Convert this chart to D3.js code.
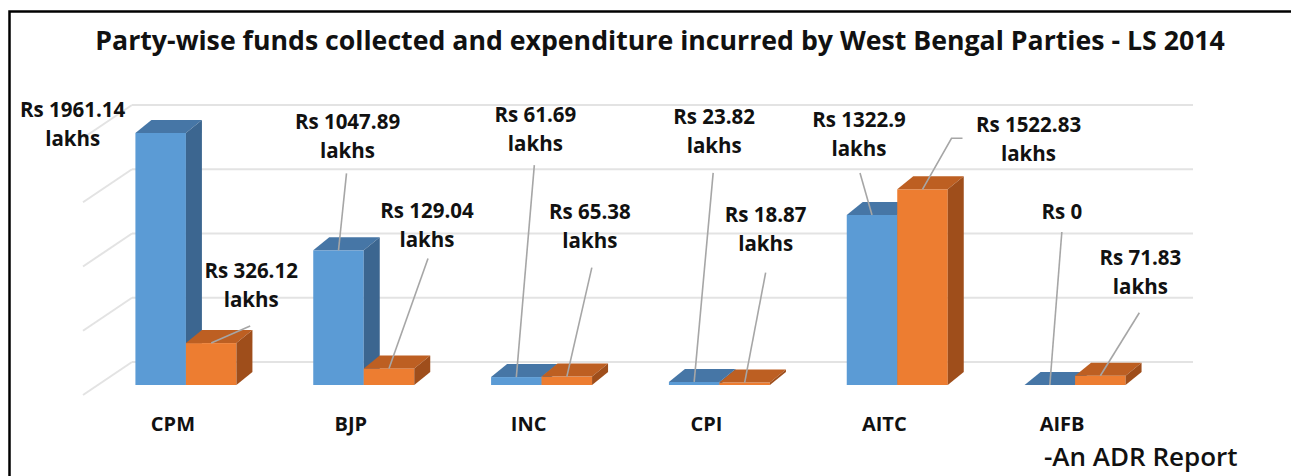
<!DOCTYPE html>
<html><head><meta charset="utf-8">
<script src="https://cdn.jsdelivr.net/npm/d3@7"></script>
<style>body{margin:0;background:#fff}svg{display:block}</style>
</head><body>
<svg id="c" width="1291" height="476"></svg>
<script>
const categories = ["CPM","BJP","INC","CPI","AITC","AIFB"];
const seriesNames = ["Funds collected","Expenditure incurred"];
const funds = [1961.14, 1047.89, 61.69, 23.82, 1322.9, 0];
const expenditure = [326.12, 129.04, 65.38, 18.87, 1522.83, 71.83];
const fundLabels = ["Rs 1961.14","Rs 1047.89","Rs 61.69","Rs 23.82","Rs 1322.9","Rs 0"];
const expLabels = ["Rs 326.12","Rs 129.04","Rs 65.38","Rs 18.87","Rs 1522.83","Rs 71.83"];
const fundUnits = ["lakhs","lakhs","lakhs","lakhs","lakhs",""];
const expUnits = ["lakhs","lakhs","lakhs","lakhs","lakhs","lakhs"];
const yTicks = [0,500,1000,1500,2000];
const titleText = "Party-wise funds collected and expenditure incurred by West Bengal Parties - LS 2014";
const sourceText = "-An ADR Report";

// label placement offsets relative to each bar's top-front anchor (layout only)
const fundLabelPos = [
  {dx:-88,dy:-16,lead:null},
  {dx:9,dy:-121,lead:[8,-77]},
  {dx:19,dy:-255,lead:[18,-212]},
  {dx:20,dy:-258,lead:[19,-209]},
  {dx:-13,dy:-88,lead:[-12,-42]},
  {dx:12,dy:-166,lead:[12,-153]}
];
const expLabelPos = [
  {dx:40,dy:-65,lead:[39,-17]},
  {dx:38,dy:-150,lead:[39,-110]},
  {dx:23,dy:-158,lead:[25,-109]},
  {dx:21,dy:-161,lead:[21,-110]},
  {dx:106,dy:-57,lead:[40,-51],elbow:[29,-51]},
  {dx:40,dy:-111,lead:[39,-63]}
];

const svg = d3.select("#c");
const FONT = "'Open Sans', 'DejaVu Sans', sans-serif";

// chart border
svg.append("rect").attr("x",9.5).attr("y",11.5).attr("width",1300).attr("height",500)
  .attr("fill","#fff").attr("stroke","#000").attr("stroke-width",2.5);

// title
const title = svg.append("text").attr("x",660).attr("y",50).attr("text-anchor","middle")
  .attr("font-family",FONT).attr("font-weight","bold").attr("font-size",24).attr("fill","#111")
  .text(titleText);
const tw = title.node().getComputedTextLength();
title.attr("font-size", 24*1130/tw);

const x0 = d3.scalePoint().domain(categories).range([97,1164]).padding(0.5);
const x1 = d3.scaleBand().domain(seriesNames).range([-50.5,50.5]).padding(0);
const yFront = d3.scaleLinear().domain([0,2000]).range([385,128]);
const wallShift = -23;   // back wall baseline offset
const wallLeft = 132, wallRight = 1193;
const sideDx = -49, sideDy = 33;

// gridlines on back wall and left side wall
const g = svg.append("g");
yTicks.forEach(t=>{
  const yy = yFront(t)+wallShift;
  g.append("line").attr("x1",wallLeft).attr("x2",wallRight).attr("y1",yy).attr("y2",yy)
    .attr("stroke","#e3e3e3").attr("stroke-width",2);
  g.append("line").attr("x1",wallLeft).attr("x2",wallLeft+sideDx).attr("y1",yy).attr("y2",yy+sideDy)
    .attr("stroke","#e3e3e3").attr("stroke-width",2);
});

// 3D bars
const depthDx = 16, depthDy = -13;
const colors = [
  {front:"#5b9bd5", top:"#4676a6", side:"#3c6690"},
  {front:"#ed7d31", top:"#bd5f22", side:"#9f4e1b"}
];
const seriesVals = [funds, expenditure];
const bars = svg.append("g");
categories.forEach((c,i)=>{
  seriesNames.forEach((s,k)=>{
    const v = seriesVals[k][i];
    const xl = x0(c)+x1(s), w = x1.bandwidth();
    const yt = yFront(v), yb = yFront(0);
    const col = colors[k];
    if (yb-yt>0.3) bars.append("rect").attr("x",xl).attr("y",yt).attr("width",w).attr("height",yb-yt).attr("fill",col.front);
    bars.append("path").attr("d",`M${xl},${yt}L${xl+depthDx},${yt+depthDy}L${xl+w+depthDx},${yt+depthDy}L${xl+w},${yt}Z`).attr("fill",col.top);
    bars.append("path").attr("d",`M${xl+w},${yt}L${xl+w+depthDx},${yt+depthDy}L${xl+w+depthDx},${yb+depthDy}L${xl+w},${yb}Z`).attr("fill",col.side);
  });
});

// category labels
svg.append("g").selectAll("text").data(categories).join("text")
  .attr("x",d=>x0(d)-13).attr("y",431).attr("text-anchor","middle")
  .attr("font-family",FONT).attr("font-weight","bold").attr("font-size",20).attr("fill","#111")
  .text(d=>d);

// data labels with leader lines
const lab = svg.append("g");
function drawLabel(ax, ay, txt, unit, pos){
  if (pos.lead){
    let pts = [[ax+pos.lead[0], ay+pos.lead[1]]];
    if (pos.elbow) pts.push([ax+pos.elbow[0], ay+pos.elbow[1]]);
    pts.push([ax, ay]);
    lab.append("path").attr("d",d3.line()(pts)).attr("fill","none").attr("stroke","#a6a6a6").attr("stroke-width",1.6);
  }
  const t = lab.append("text").attr("text-anchor","middle").attr("font-family",FONT).attr("font-weight","bold")
    .attr("font-size",20.5).attr("fill","#111");
  t.append("tspan").attr("x",ax+pos.dx).attr("y",ay+pos.dy).text(txt);
  if (unit) t.append("tspan").attr("x",ax+pos.dx).attr("y",ay+pos.dy+29).text(unit);
}
categories.forEach((c,i)=>{
  const xb = x0(c)+x1(seriesNames[0])+x1.bandwidth()/2;
  drawLabel(xb, yFront(funds[i]), fundLabels[i], fundUnits[i], fundLabelPos[i]);
  const xo = x0(c)+x1(seriesNames[1])+x1.bandwidth()/2;
  drawLabel(xo, yFront(expenditure[i]), expLabels[i], expUnits[i], expLabelPos[i]);
});

// source note
const src = svg.append("text").attr("x",1044).attr("y",466).attr("font-family",FONT).attr("font-weight",600)
  .attr("font-size",25).attr("fill","#111").text(sourceText);
const sw = src.node().getComputedTextLength();
src.attr("font-size", Math.min(26, 25*206/sw));
</script>
</body></html>
